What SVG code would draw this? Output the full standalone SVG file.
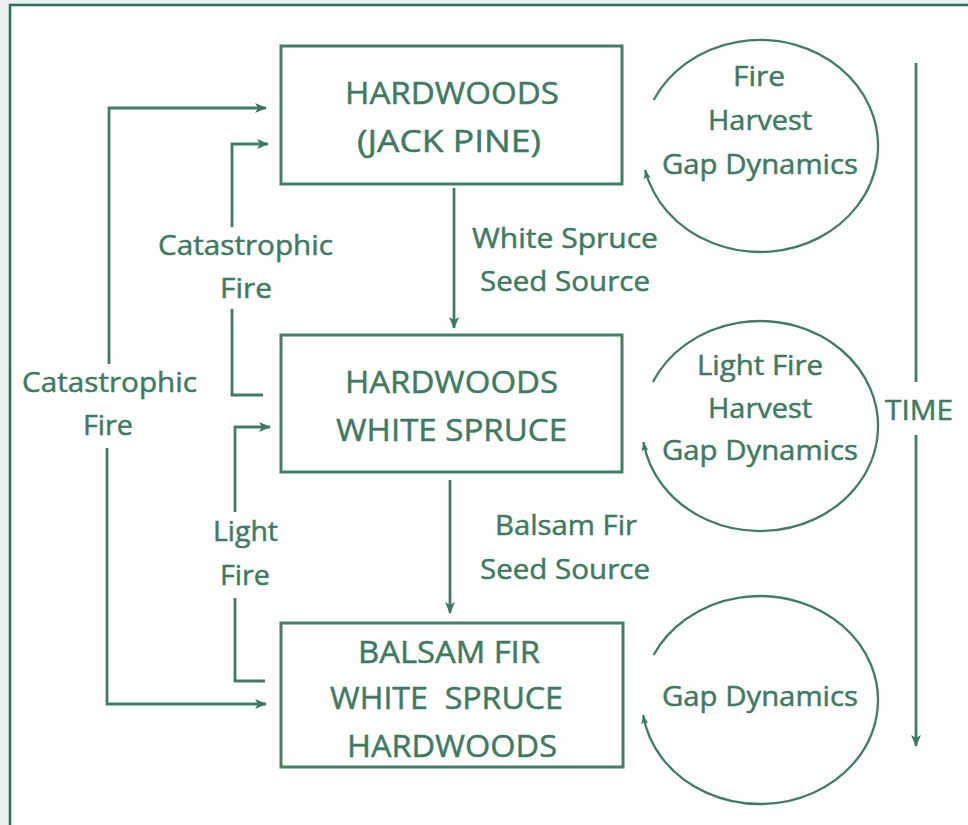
<svg xmlns="http://www.w3.org/2000/svg" width="968" height="825" viewBox="0 0 968 825">
<style>
text{font-family:"Open Sans","Liberation Sans",sans-serif;fill:#3f7a63;stroke:#3f7a63;stroke-width:0.5;text-anchor:middle}
.box{fill:none;stroke:#457d67;stroke-width:3}
.bx{font-size:31px}
.lb{font-size:28px}
.cl{font-size:27px}
.ln{fill:none;stroke:#437c66;stroke-width:2.8}
.cy{fill:none;stroke:#437c66;stroke-width:2.3}
</style>
<defs>
<marker id="ah" markerWidth="12" markerHeight="10" refX="11" refY="5" orient="auto" markerUnits="userSpaceOnUse">
<path d="M0,0 L12,5 L0,10 L3,5 Z" fill="#3d7862"/>
</marker>
<marker id="ahs" markerWidth="10" markerHeight="10" refX="9" refY="5" orient="auto" markerUnits="userSpaceOnUse">
<path d="M0,1.5 L9,5 L0,8.5 L2,5 Z" fill="#3d7862"/>
</marker>
</defs>
<rect x="0" y="0" width="968" height="825" fill="#e9efed"/>
<rect x="10" y="5" width="970" height="830" fill="#ffffff" stroke="#22705e" stroke-width="2.5"/>

<g id="connectors">
<path class="ln" d="M109,364 V108 H266" marker-end="url(#ah)"/>
<path class="ln" d="M107,448 V704 H266" marker-end="url(#ah)"/>
<path class="ln" d="M232,227 V144 H268" marker-end="url(#ah)"/>
<path class="ln" d="M232,309 V395 H263"/>
<path class="ln" d="M235,512 V427 H270" marker-end="url(#ah)"/>
<path class="ln" d="M235,598 V681 H265"/>
<path class="ln" d="M454,188 V328" marker-end="url(#ah)"/>
<path class="ln" d="M450,480 V613" marker-end="url(#ah)"/>
<path class="ln" stroke-width="3" d="M916,63 V382"/>
<path class="ln" stroke-width="3" d="M916,435 V746" marker-end="url(#ah)"/>
<path class="cy" d="M653.7,100 A118,106 0 1 1 645.1,170" marker-end="url(#ahs)"/>
<path class="cy" d="M652.9,382 A118,105 0 1 1 643.4,442" marker-end="url(#ahs)"/>
<path class="cy" d="M653.6,655 A118,104 0 1 1 643.2,715" marker-end="url(#ahs)"/>
<text class="lb" x="565" y="248" textLength="186" lengthAdjust="spacingAndGlyphs">White Spruce</text>
<text class="lb" x="565" y="291" textLength="170" lengthAdjust="spacingAndGlyphs">Seed Source</text>
<text class="lb" x="566" y="535" textLength="142" lengthAdjust="spacingAndGlyphs">Balsam Fir</text>
<text class="lb" x="565" y="579" textLength="170" lengthAdjust="spacingAndGlyphs">Seed Source</text>
<text class="lb" x="109.5" y="392" textLength="175" lengthAdjust="spacingAndGlyphs">Catastrophic</text>
<text class="lb" x="108" y="435" textLength="50" lengthAdjust="spacingAndGlyphs">Fire</text>
<text class="lb" x="245.5" y="255" textLength="175" lengthAdjust="spacingAndGlyphs">Catastrophic</text>
<text class="lb" x="246" y="298" textLength="52" lengthAdjust="spacingAndGlyphs">Fire</text>
<text class="lb" x="245.5" y="541" textLength="65" lengthAdjust="spacingAndGlyphs">Light</text>
<text class="lb" x="245" y="585" textLength="50" lengthAdjust="spacingAndGlyphs">Fire</text>
<text class="lb" x="919" y="420" textLength="68" lengthAdjust="spacingAndGlyphs">TIME</text>
</g>

<g id="node-hardwoods-jackpine">
<rect class="box" x="281" y="46" width="341" height="138"/>
<text class="bx" x="452" y="104" textLength="214" lengthAdjust="spacingAndGlyphs">HARDWOODS</text>
<text class="bx" x="449" y="152" textLength="184" lengthAdjust="spacingAndGlyphs">(JACK PINE)</text>
</g>
<g id="node-hardwoods-whitespruce">
<rect class="box" x="281" y="335" width="341" height="137"/>
<text class="bx" x="451.5" y="393" textLength="213" lengthAdjust="spacingAndGlyphs">HARDWOODS</text>
<text class="bx" x="451.5" y="441" textLength="231" lengthAdjust="spacingAndGlyphs">WHITE SPRUCE</text>
</g>
<g id="node-balsam">
<rect class="box" x="281" y="623" width="342" height="144"/>
<text class="bx" x="449" y="663" textLength="182" lengthAdjust="spacingAndGlyphs">BALSAM FIR</text>
<text class="bx" x="446.5" y="709" textLength="233" lengthAdjust="spacingAndGlyphs" xml:space="preserve">WHITE  SPRUCE</text>
<text class="bx" x="452" y="757" textLength="210" lengthAdjust="spacingAndGlyphs">HARDWOODS</text>
</g>
<g id="cycle-1">
<text class="cl" x="759" y="86" textLength="52" lengthAdjust="spacingAndGlyphs">Fire</text>
<text class="cl" x="760" y="130" textLength="104" lengthAdjust="spacingAndGlyphs">Harvest</text>
<text class="cl" x="760" y="174" textLength="196" lengthAdjust="spacingAndGlyphs">Gap Dynamics</text>
</g>
<g id="cycle-2">
<text class="cl" x="760" y="375" textLength="126" lengthAdjust="spacingAndGlyphs">Light Fire</text>
<text class="cl" x="760" y="418" textLength="104" lengthAdjust="spacingAndGlyphs">Harvest</text>
<text class="cl" x="760" y="460" textLength="196" lengthAdjust="spacingAndGlyphs">Gap Dynamics</text>
</g>
<g id="cycle-3">
<text class="cl" x="760" y="706" textLength="196" lengthAdjust="spacingAndGlyphs">Gap Dynamics</text>
</g>
</svg>
